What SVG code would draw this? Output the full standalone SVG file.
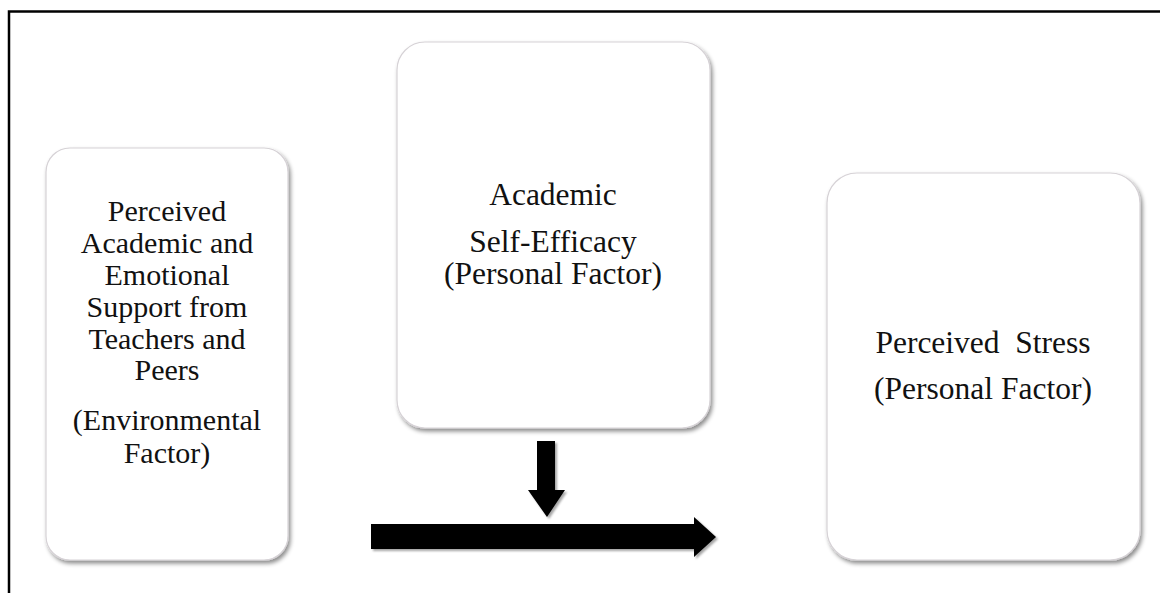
<svg xmlns="http://www.w3.org/2000/svg" width="1160" height="593" viewBox="0 0 1160 593">
<style>
.box{fill:#ffffff;stroke:#d6d2d6;stroke-width:1.2;filter:url(#sh)}
.t{font-family:"Liberation Serif","Times New Roman",serif;font-size:31.5px;fill:#111;text-anchor:middle}
.s{font-size:30px}
.arr{fill:#000;filter:url(#ash)}
</style>
<defs>
<filter id="sh" x="-10%" y="-10%" width="125%" height="125%">
<feDropShadow dx="2" dy="3" stdDeviation="2.2" flood-color="#000" flood-opacity="0.45"/>
</filter>
<filter id="ash" x="-10%" y="-20%" width="125%" height="150%">
<feDropShadow dx="2" dy="2" stdDeviation="1.2" flood-color="#000" flood-opacity="0.35"/>
</filter>
</defs>
<rect width="1160" height="593" fill="#ffffff"/>
<path d="M9 593 V11.5 H1160" fill="none" stroke="#000" stroke-width="2.5"/>
<g id="node-support">
<rect class="box" x="46" y="148" width="242" height="412" rx="24"/>
<text class="t s" x="167" y="221">Perceived</text>
<text class="t s" x="167" y="253">Academic and</text>
<text class="t s" x="167" y="285">Emotional</text>
<text class="t s" x="167" y="317">Support from</text>
<text class="t s" x="167" y="349">Teachers and</text>
<text class="t s" x="167" y="380">Peers</text>
<text class="t s" x="167" y="430">(Environmental</text>
<text class="t s" x="167" y="463">Factor)</text>
</g>
<g id="node-efficacy">
<rect class="box" x="397" y="42" width="313" height="386" rx="28"/>
<text class="t" x="553" y="205">Academic</text>
<text class="t" x="553" y="252">Self-Efficacy</text>
<text class="t" x="553" y="284">(Personal Factor)</text>
</g>
<g id="node-stress">
<rect class="box" x="827" y="173" width="313" height="387" rx="30"/>
<text class="t" x="983" y="353" xml:space="preserve">Perceived  Stress</text>
<text class="t" x="983" y="399">(Personal Factor)</text>
</g>
<g id="connectors">
<path class="arr" d="M537 441 H555 V490 H565 L547 517 L528 490 H537 Z"/>
<path class="arr" d="M371 524 H694 V517 L716 537 L694 557 V549 H371 Z"/>
</g>
</svg>
